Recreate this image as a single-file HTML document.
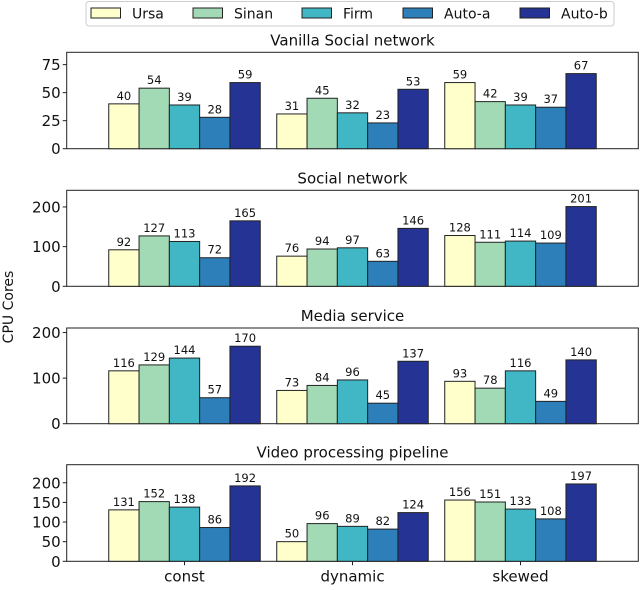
<!DOCTYPE html>
<html><head><meta charset="utf-8"><style>
body{margin:0;background:#fff;}
svg text{font-family:"DejaVu Sans","Liberation Sans",sans-serif;fill:#111;}
</style></head><body>
<svg id="c" width="640" height="585" xmlns="http://www.w3.org/2000/svg"></svg>
<script>
const categories = ["const","dynamic","skewed"];
const seriesNames = ["Ursa","Sinan","Firm","Auto-a","Auto-b"];
const panelTitles = ["Vanilla Social network","Social network","Media service","Video processing pipeline"];
const vanilla = [[40,31,59],[54,45,42],[39,32,39],[28,23,37],[59,53,67]];
const social = [[92,76,128],[127,94,111],[113,97,114],[72,63,109],[165,146,201]];
const media = [[116,73,93],[129,84,78],[144,96,116],[57,45,49],[170,137,140]];
const video = [[131,50,156],[152,96,151],[138,89,133],[86,82,108],[192,124,197]];
const panelData = [vanilla, social, media, video];
const yTicks = [[0,25,50,75],[0,100,200],[0,100,200],[0,50,100,150,200]];
const yMax = [86,242,210,246];
const colors = ["#ffffcc","#a1dab4","#41b6c4","#2c7fb8","#253494"];
const tops = [52.3,190.3,328,464.7];
const bots = [148.7,286.3,423.7,561.3];
const L=66.7, R=638.3;
const NS="http://www.w3.org/2000/svg";
const svg=document.getElementById('c');
function mk(t,a,txt){const e=document.createElementNS(NS,t);for(const k in a)e.setAttribute(k,a[k]);if(txt!==undefined)e.textContent=txt;svg.appendChild(e);return e;}
const bw=30.3, gc=[184.5,352.5,520.5];
function xPos(ci,si){return gc[ci]+(si-2.5)*bw;}
panelData.forEach((pd,p)=>{
  const top=tops[p],bot=bots[p];
  const y=v=>bot-v/yMax[p]*(bot-top);
  let t=mk('text',{x:352.5,y:top-7,'text-anchor':'middle','font-size':15},panelTitles[p]);
  
  
  let fr=mk('rect',{x:L,y:top,width:R-L,height:bot-top,fill:'none',stroke:'#222','stroke-width':1});
  
  
  yTicks[p].forEach(v=>{
    mk('line',{x1:L-4,x2:L,y1:y(v),y2:y(v),stroke:'#222'});
    let tl=mk('text',{x:L-6,y:y(v)+5.5,'text-anchor':'end','font-size':15},String(v));
    
    
  });
  pd.forEach((ser,si)=>{
    ser.forEach((v,ci)=>{
      const x=xPos(ci,si);
      let b=mk('rect',{x:x,y:y(v),width:bw,height:bot-y(v),fill:colors[si],stroke:'#222','stroke-width':1});
      
      
      let l=mk('text',{x:x+bw/2,y:y(v)-4,'text-anchor':'middle','font-size':11.5},String(v));
      
      
    });
  });
  if(p===3){
    categories.forEach((c,ci)=>{
      mk('line',{x1:gc[ci],x2:gc[ci],y1:bot,y2:bot+4,stroke:'#222'});
      let xl=mk('text',{x:gc[ci],y:bot+20,'text-anchor':'middle','font-size':15},c);
      
      
    });
  }
});
let yl=mk('text',{x:0,y:0,transform:'translate(13,307) rotate(-90)','text-anchor':'middle','font-size':14},'CPU Cores');


let lg=mk('rect',{x:86,y:1.5,width:528,height:24.5,rx:3,fill:'#fff',stroke:'#ccc'});


const lx=[91,193,302,403,520];
seriesNames.forEach((n,i)=>{
  let pt=mk('rect',{x:lx[i],y:8,width:29.5,height:10,fill:colors[i],stroke:'#222'});
  
  
  let tx=mk('text',{x:lx[i]+41,y:18.5,'font-size':14},n);
  
  
});
</script>
</body></html>
